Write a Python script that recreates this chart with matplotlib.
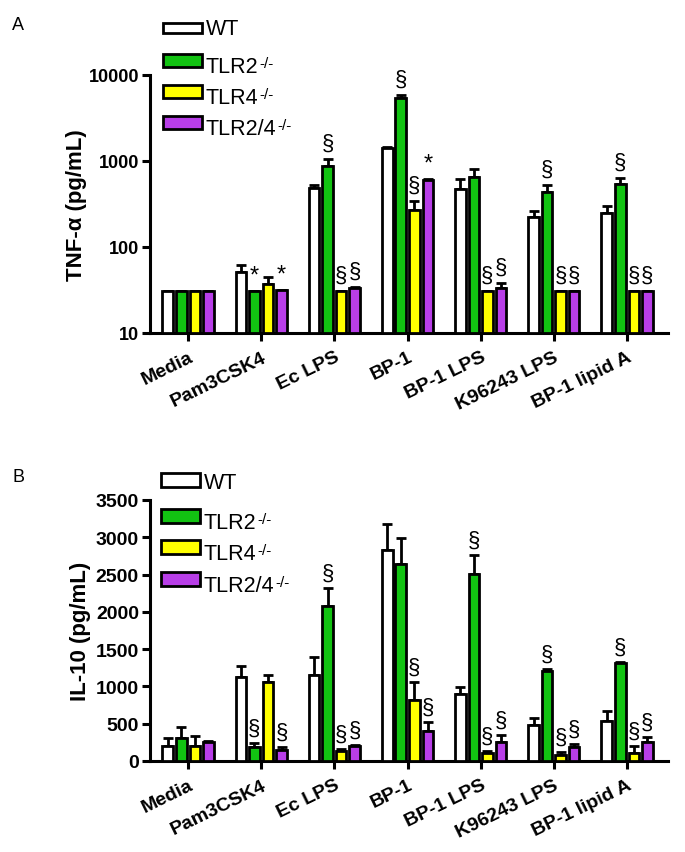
import matplotlib
matplotlib.use("Agg")
import matplotlib.pyplot as plt
import matplotlib.patches as mpatches
import numpy as np

plt.rcParams["font.family"] = ["Liberation Sans", "DejaVu Sans"]

# ── data ────────────────────────────────────────────────────────────────────
groups = ["Media", "Pam3CSK4", "Ec LPS", "BP-1", "BP-1 LPS", "K96243 LPS", "BP-1 lipid A"]
series_base = ["WT", "TLR2", "TLR4", "TLR2/4"]
series_sup = ["", "-/-", "-/-", "-/-"]
colors = ["#ffffff", "#12c312", "#ffff00", "#b83ee8"]

# TNF-α (pg/mL), mean and top of error bar
tnf_wt = [31, 51, 480, 1400, 470, 225, 248]
tnf_wt_err = [31, 62, 526, 1470, 617, 260, 302]
tnf_tlr2 = [31, 31, 868, 5400, 657, 440, 540]
tnf_tlr2_err = [31, 31, 1055, 5800, 807, 521, 630]
tnf_tlr4 = [31, 37, 31, 272, 31, 31, 31]
tnf_tlr4_err = [31, 45, 31, 340, 31, 31, 31]
tnf_tlr24 = [31, 32, 33, 595, 33, 31, 31]
tnf_tlr24_err = [31, 32, 34, 625, 38, 31, 31]

# IL-10 (pg/mL)
il_wt = [205, 1130, 1153, 2828, 898, 487, 540]
il_wt_err = [308, 1277, 1390, 3177, 996, 576, 674]
il_tlr2 = [304, 184, 2082, 2641, 2507, 1210, 1314]
il_tlr2_err = [452, 237, 2315, 2990, 2765, 1233, 1331]
il_tlr4 = [205, 1063, 138, 822, 107, 80, 107]
il_tlr4_err = [340, 1153, 161, 1055, 138, 117, 197]
il_tlr24 = [259, 152, 197, 406, 259, 184, 259]
il_tlr24_err = [272, 184, 218, 519, 349, 228, 318]

# significance marks: (group, series, symbol)
tnf_marks = [(1, 1, "*"), (1, 3, "*"), (2, 1, "§"), (2, 2, "§"), (2, 3, "§"),
             (3, 1, "§"), (3, 2, "§"), (3, 3, "*"), (4, 2, "§"), (4, 3, "§"),
             (5, 1, "§"), (5, 2, "§"), (5, 3, "§"), (6, 1, "§"), (6, 2, "§"), (6, 3, "§")]
il_marks = [(1, 1, "§"), (1, 3, "§"), (2, 1, "§"), (2, 2, "§"), (2, 3, "§"),
            (3, 2, "§"), (3, 3, "§"), (4, 1, "§"), (4, 2, "§"), (4, 3, "§"),
            (5, 1, "§"), (5, 2, "§"), (5, 3, "§"), (6, 1, "§"), (6, 2, "§"), (6, 3, "§")]

W, H = 685, 853
fig = plt.figure(figsize=(W / 100, H / 100), dpi=100)


def px_axes(x0, x1, ytop, ybot):
    return fig.add_axes([x0 / W, 1 - ybot / H, (x1 - x0) / W, (ybot - ytop) / H])


bw = 0.185
offs = (np.arange(4) - 1.5) * bw
x = np.arange(len(groups))


def draw_panel(ax, means, tops, marks, log):
    for k in range(4):
        m = np.array(means[k], dtype=float)
        t = np.array(tops[k], dtype=float)
        base = 10 if log else 0
        ax.bar(x + offs[k], m - base, bw * 0.78, bottom=base, color=colors[k],
               edgecolor="black", linewidth=2, zorder=3)
        ax.errorbar(x + offs[k], m, yerr=[np.zeros_like(m), t - m], fmt="none",
                    ecolor="black", elinewidth=2, capsize=3.5, capthick=2, zorder=2)
    for g, k, sym in marks:
        top = tops[k][g]
        if log:
            y = top * (1.15 if sym == "§" else 1.12)
        else:
            y = top + 60
        ax.text(x[g] + offs[k], y, sym, ha="center", va="bottom",
                fontsize=16 if sym == "§" else 17, zorder=4)
    for s in ["top", "right"]:
        ax.spines[s].set_visible(False)
    for s in ["left", "bottom"]:
        ax.spines[s].set_linewidth(2.2)
    ax.set_xlim(-0.52, 6.56)
    ax.set_xticks(x)
    ax.set_xticklabels(groups, rotation=26, ha="right", va="top", rotation_mode="anchor",
                       fontsize=14, fontweight="bold")
    ax.tick_params(axis="both", width=2.2, length=6, direction="out")
    ax.tick_params(axis="x", pad=5)
    ax.tick_params(axis="y", pad=2)


# ── panel A ─────────────────────────────────────────────────────────────────
axA = px_axes(150, 668, 76, 334)
axA.set_yscale("log")
axA.set_ylim(10, 10000)
draw_panel(axA, [tnf_wt, tnf_tlr2, tnf_tlr4, tnf_tlr24],
           [tnf_wt_err, tnf_tlr2_err, tnf_tlr4_err, tnf_tlr24_err], tnf_marks, True)
axA.set_yticks([10, 100, 1000, 10000])
axA.set_yticklabels(["10", "100", "1000", "10000"], fontweight="bold", fontsize=13)
axA.yaxis.set_minor_locator(matplotlib.ticker.NullLocator())
axA.set_ylabel("TNF-α (pg/mL)", fontsize=16, fontweight="bold", labelpad=1)

# ── panel B ─────────────────────────────────────────────────────────────────
axB = px_axes(150, 668, 501, 762)
axB.set_ylim(0, 3500)
draw_panel(axB, [il_wt, il_tlr2, il_tlr4, il_tlr24],
           [il_wt_err, il_tlr2_err, il_tlr4_err, il_tlr24_err], il_marks, False)
axB.set_yticks(np.arange(0, 3501, 500))
axB.set_yticklabels([str(v) for v in range(0, 3501, 500)], fontweight="bold", fontsize=14)
axB.set_ylabel("IL-10 (pg/mL)", fontsize=16, fontweight="bold", labelpad=3)


# ── legends (drawn by hand, uneven spacing as in original) ─────────────────
def legend_at(xbox, boxes):
    for k, (ytop, ybot) in enumerate(boxes):
        r = mpatches.Rectangle((xbox / W, 1 - ybot / H), 39 / W, (ybot - ytop) / H,
                               transform=fig.transFigure, facecolor=colors[k],
                               edgecolor="black", linewidth=2)
        fig.add_artist(r)
        base_y = ybot + (1 if k == 0 else 5)
        t = fig.text((xbox + 43) / W, 1 - base_y / H, series_base[k], fontsize=15.5,
                     ha="left", va="baseline")
        if series_sup[k]:
            fig.add_artist(plt.Annotation(series_sup[k], xy=(1, 1), xycoords=t,
                                          xytext=(0.3, 0), textcoords="offset points",
                                          fontsize=11, ha="left", va="top"))


legend_at(163, [(24, 34), (55, 68), (86, 99), (117, 130)])
legend_at(161, [(474, 488), (510, 524), (541, 555), (573, 587)])

fig.text(12 / W, 1 - 26 / H, "A", fontsize=13, ha="left", va="center")
fig.text(13 / W, 1 - 478 / H, "B", fontsize=13, ha="left", va="center")

fig.savefig("out.png", dpi=100, facecolor="white")
